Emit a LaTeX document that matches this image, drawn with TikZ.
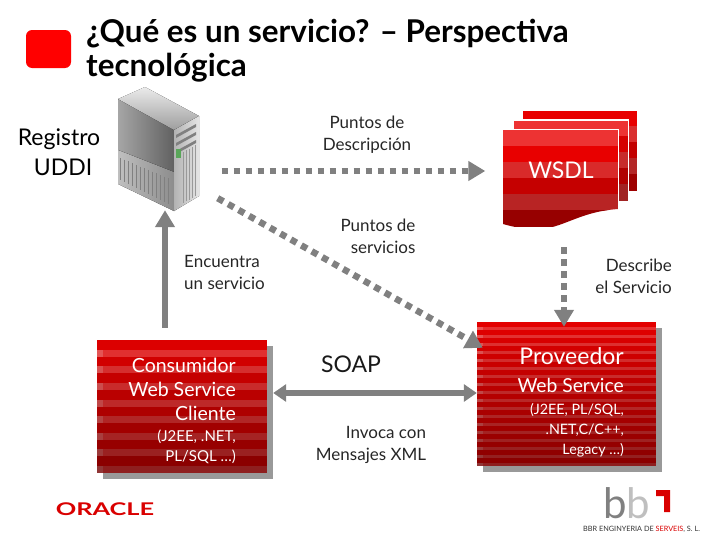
\documentclass[tikz,border=0pt]{standalone}
\usepackage{fontspec}
\setmainfont{Lato}
\usepackage{xcolor}
\usepackage{graphicx}
\usetikzlibrary{positioning}
\usetikzlibrary{arrows.meta}
\definecolor{rojo}{RGB}{232,0,0}
\definecolor{gris}{RGB}{128,128,128}
\tikzset{
  flecha/.style={draw=gris, line width=6.5pt, -{Triangle[length=17pt,width=19pt]}},
  flechadoble/.style={draw=gris, line width=6.5pt, {Triangle[length=13pt,width=17pt]}-{Triangle[length=13pt,width=17pt]}},
  puntos/.style={flecha, dash pattern=on 6.5pt off 5.5pt},
  etiqueta/.style={align=right, font=\fontsize{17}{22}\selectfont, text=black!85, inner sep=0pt},
  caja/.style={align=right, text=white, inner sep=0pt, anchor=north west},
}
% caja con franjas: x, y, ancho, alto, numero de franjas
\newcommand{\franjas}[5]{
  \fill[black!40] (#1+6,#2+6) rectangle +(#3,#4);
  \foreach \i in {1,...,#5} {
    \pgfmathsetmacro{\fr}{100-40*\i/#5}
    \pgfmathsetmacro{\ya}{#2+(\i-1)*#4/#5}
    \pgfmathsetmacro{\yb}{#2+\i*#4/#5}
    \pgfmathsetmacro{\ym}{\ya+0.58*(\yb-\ya)}
    \fill[rojo!\fr!black] (#1,\ya) rectangle (#1+#3,\yb);
    \fill[white!20!rojo!\fr!black] (#1,\ym) rectangle (#1+#3,\yb);
    \fill[white!35!rojo!\fr!black] (#1,\ym) rectangle (#1+6,\yb);
  }
}
\begin{document}
\begin{tikzpicture}[x=1pt, y=-1pt]
  \useasboundingbox (0,0) rectangle (728,546);
  \fill[red, rounded corners=6pt] (26,30) rectangle (71,68);
  \node (titulo) [anchor=north west, inner sep=0pt, align=left, font=\fontsize{31.4}{34}\selectfont\bfseries] at (86,19) {¿Qué es un servicio? – Perspectiva\\tecnológica};

  % servidor
  \fill[left color=black!35, right color=black!62] (118,99) -- (174,130) -- (174,172) -- (118,150) -- cycle;
  \fill[left color=black!25, right color=black!45] (118,150) -- (174,172) -- (174,211) -- (118,184) -- cycle;
  \fill[top color=black!8, bottom color=black!38] (145,87) -- (199,116) -- (174,130) -- (118,99) -- cycle;
  \fill[left color=black!30, right color=black!10] (174,130) -- (199,116) -- (199,196) -- (174,211) -- cycle;
  \foreach \i in {0,...,12} {
    \draw[black!50, line width=0.8pt] (120+\i*4,158+\i*1.7) -- (120+\i*4,180+\i*2);
  }
  \foreach \i in {0,...,4} {
    \draw[black!40, line width=0.8pt] (183+\i*3,152-\i*1.7) -- (183+\i*3,203-\i*1.7);
  }
  \foreach \i in {0,...,2} {
    \fill[black!50] (176,135+\i*8) -- (196,124+\i*8) -- (196,127+\i*8) -- (176,138+\i*8) -- cycle;
  }
  \fill[green!30!gray] (176,149) rectangle (181,158);
  \node (registro) [minimum width=83pt, minimum height=128pt, inner sep=0pt] at (159,151) {};
  \node (uddi) [align=center, font=\fontsize{23}{30}\selectfont, inner sep=0pt] at (59,152) {Registro\\\hspace{8pt}UDDI};

  % hojas WSDL
  \foreach \x/\y/\c in {522/110/0, 513/120/1} {
    \fill[white] (\x-1,\y-1) rectangle (\x+116,\y+81);
    \begin{scope}
      \clip (\x,\y) rectangle (\x+115,\y+80);
      \foreach \i in {0,...,4} {
        \pgfmathtruncatemacro{\tono}{100-\i*8}
        \pgfmathtruncatemacro{\pal}{mod(\i+\c,2)*20}
        \fill[white!\pal!rojo!\tono!black] (\x,\y+\i*16) rectangle (\x+115,\y+\i*16+17);
      }
    \end{scope}
    \draw[white, line width=0.8pt] (\x,\y+80) -- (\x,\y) -- (\x+115,\y) -- (\x+115,\y+80);
  }
  \fill[white] (502,129) rectangle (619,232);
  \begin{scope}
    \clip (503,130) -- (618,130) -- (618,209) .. controls (575,212) and (560,232) .. (530,229) .. controls (518,228) and (510,226) .. (503,224) -- cycle;
    \foreach \i/\c/\n in {0/100/20, 1/100/0, 2/92/18, 3/85/0, 4/78/18, 5/65/0} {
      \fill[white!\n!rojo!\c!black] (503,130+\i*16) rectangle (618,130+\i*16+17);
    }
  \end{scope}
  \node (wsdl) [minimum width=115pt, minimum height=98pt, inner sep=0pt] at (561,170) {};
  \node [text=white, font=\fontsize{23}{26}\selectfont, inner sep=0pt] at (wsdl) {WSDL};

  % cajas
  \franjas{97}{340}{170}{133}{8}
  \franjas{477}{322}{179}{144}{18}
  \node (consumidor) [minimum width=170pt, minimum height=133pt, inner sep=0pt] at (182,406.5) {};
  \node (proveedor) [minimum width=179pt, minimum height=144pt, inner sep=0pt] at (566.5,394) {};
  \node (txtcons) [caja, anchor=north east, font=\fontsize{19.5}{24}\selectfont] at (236,358) {Consumidor\\Web Service\\Cliente};
  \node (txtcons2) [caja, anchor=north east, font=\fontsize{15}{20}\selectfont] at (236,430) {(J2EE, .NET,\\PL/SQL …)};
  \node (txtprov) [caja, anchor=north east, font=\fontsize{23}{26}\selectfont] at (624,347) {Proveedor};
  \node (txtprov2) [caja, anchor=north east, font=\fontsize{19.3}{24}\selectfont] at (624,378) {Web Service};
  \node (txtprov3) [caja, anchor=north east, font=\fontsize{14.3}{20}\selectfont] at (624,403) {(J2EE, PL/SQL,\\.NET,C/C++,\\Legacy …)};

  % flechas
  \draw[puntos] ([xshift=21pt,yshift=-20pt]registro.east) to ([xshift=-18pt,yshift=-1pt]wsdl.west);
  \draw[puntos] ([xshift=17pt,yshift=17pt]registro.south east) to ([xshift=6pt,yshift=-26pt]proveedor.north west);
  \draw[puntos] ([xshift=3pt,yshift=-28pt]wsdl.south) to ([xshift=-2.5pt,yshift=-5pt]proveedor.north);
  \draw[flecha] ([xshift=-17pt,yshift=12pt]consumidor.north) to ([xshift=6pt,yshift=5pt]registro.south);
  \draw[flechadoble] ([xshift=6pt,yshift=13.5pt]consumidor.east) to ([yshift=1pt]proveedor.west);

  % etiquetas
  \node (lbl1) [etiqueta, align=center] at (367,135) {Puntos de\\Descripción};
  \node (lbl2) [etiqueta] at (378,236) {Puntos de\\servicios};
  \node (lbl3) [etiqueta, align=left, anchor=west] at (184,272) {Encuentra\\un servicio};
  \node (lbl4) [etiqueta, anchor=east] at (672,276) {Describe\\el Servicio};
  \node (lbl5) [etiqueta] at (371,445) {Invoca con\\Mensajes XML};
  \node (soap) [inner sep=0pt, font=\fontsize{23}{26}\selectfont, text=black!90] at (351,364) {SOAP};

  % logos
  \node (oracle) [inner sep=0pt, text=red!85!black, font=\fontsize{17.5}{20}\selectfont\bfseries] at (105,509) {\scalebox{1.45}[1]{ORACLE}};
  \node (bb) [inner sep=0pt, anchor=base west, text=black!50, font=\fontsize{42}{42}\selectfont] at (603,518) {b\textcolor{black!25}{b}};
  \fill[red!85!black] (656,490) -- (670,490) -- (670,512) -- (664,512) -- (664,496) -- (656,496) -- cycle;
  \node (bbr) [inner sep=0pt, anchor=west, text=black!80, font=\fontsize{7.3}{9}\selectfont] at (583,529) {BBR ENGINYERIA DE \textcolor{red!85!black}{SERVEIS}, S. L.};
\end{tikzpicture}
\end{document}
